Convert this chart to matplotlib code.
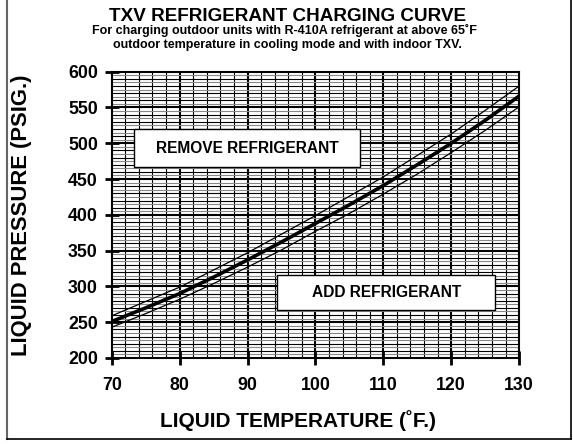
import numpy as np
import matplotlib
matplotlib.use('Agg')
import matplotlib.pyplot as plt
from matplotlib.patches import Rectangle

plt.rcParams['font.family'] = ['Liberation Sans', 'DejaVu Sans']
plt.rcParams['font.weight'] = 'bold'

# liquid temperature (F) and pressure (psig)
temps = [70, 75, 80, 85, 90, 95, 100, 105, 110, 115, 120, 125, 130]
press_mid = [251, 270, 290, 313, 337, 362, 388, 414, 441, 470, 500, 532, 566]
press_hi = [259, 279, 299, 323, 347, 373, 399, 426, 453, 483, 513, 546, 580]
press_lo = [243, 262, 282, 304, 327, 351, 377, 402, 429, 457, 487, 518, 551]

xticks = [70, 80, 90, 100, 110, 120, 130]
yticks = [200, 250, 300, 350, 400, 450, 500, 550, 600]

fig = plt.figure(figsize=(5.73, 4.44), dpi=100)
ax = fig.add_axes([0.195, 0.1937, 0.711, 0.6448])
ax.set_xlim(70, 130)
ax.set_ylim(200, 600)

# graph paper grid
for x in np.arange(72, 130, 2):
    if x % 10 == 0:
        ax.axvline(x, color='black', lw=1.5, zorder=1)
    else:
        ax.axvline(x, color='black', lw=0.8, zorder=1)
for y in np.arange(205, 600, 5):
    if y % 50 == 0:
        ax.axhline(y, color='black', lw=1.5, zorder=1)
    elif y % 10 == 0:
        ax.axhline(y, color='black', lw=0.8, zorder=1)
    else:
        ax.axhline(y, color='#888888', lw=0.8, zorder=1)

ax.plot(temps, press_hi, color='black', lw=0.9, zorder=3)
ax.plot(temps, press_lo, color='black', lw=0.9, zorder=3)
ax.plot(temps, press_mid, color='black', lw=2.6, zorder=3)

# labelled boxes
ax.add_patch(Rectangle((73.3, 467), 33.3, 53, facecolor='white',
                       edgecolor='black', lw=1, zorder=4))
ax.text(90, 493, 'REMOVE REFRIGERANT', ha='center', va='center',
        fontsize=11.2, fontweight='bold', zorder=5)
ax.add_patch(Rectangle((94.4, 267), 32.1, 49, facecolor='white',
                       edgecolor='black', lw=1, zorder=4))
ax.text(110.5, 291.5, 'ADD REFRIGERANT', ha='center', va='center',
        fontsize=11.2, fontweight='bold', zorder=5)

for s in ax.spines.values():
    s.set_linewidth(1.5)
    s.set_zorder(6)

ax.set_xticks(xticks)
ax.set_yticks(yticks)
ax.tick_params(direction='inout', length=10, width=2, labelsize=12.8, pad=5)
for lab in ax.get_xticklabels() + ax.get_yticklabels():
    lab.set_fontweight('bold')
ax.tick_params(axis='x', pad=9)

fig.text(0.52, 0.054, 'LIQUID TEMPERATURE (˚F.)', ha='center', va='center',
         fontsize=15, fontweight='bold')
fig.text(0.037, 0.516, 'LIQUID PRESSURE (PSIG.)', ha='center', va='center',
         rotation=90, fontsize=15.8, fontweight='bold')

fig.text(0.502, 0.962, 'TXV REFRIGERANT CHARGING CURVE', ha='center',
         va='center', fontsize=13.6, fontweight='bold')
fig.text(0.497, 0.931, 'For charging outdoor units with R-410A refrigerant at above 65˚F',
         ha='center', va='center', fontsize=9, fontweight='bold')
fig.text(0.501, 0.899, 'outdoor temperature in cooling mode and with indoor TXV.',
         ha='center', va='center', fontsize=9, fontweight='bold')

# page frame
fig.add_artist(plt.Line2D([0.0122, 0.0122], [0.011, 1.0], color='#666666',
                          lw=1.5, transform=fig.transFigure))
fig.add_artist(plt.Line2D([0.0122, 0.997], [0.011, 0.011], color='black',
                          lw=1.2, transform=fig.transFigure))
fig.add_artist(plt.Line2D([0.997, 0.997], [0.011, 1.0], color='black',
                          lw=1.2, transform=fig.transFigure))

fig.savefig('out.png', dpi=100)
